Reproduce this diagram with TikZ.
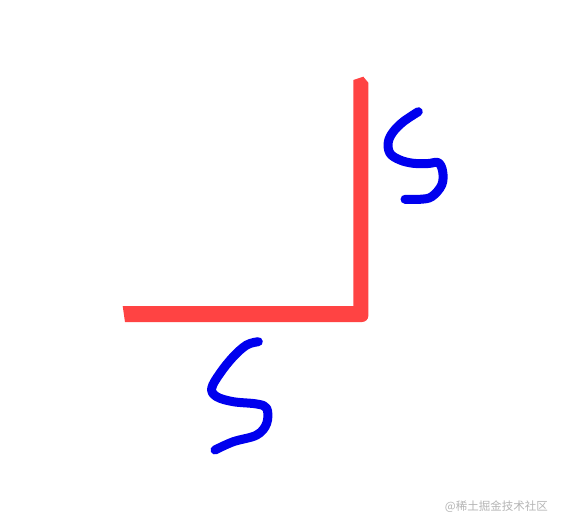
\documentclass[tikz,border=0pt]{standalone}
\usepackage{fontspec}
\newfontfamily\cjk{Noto Sans CJK SC}
\definecolor{redbar}{HTML}{FF4343}
\definecolor{bluepen}{HTML}{0000EE}
\definecolor{wmgray}{HTML}{B4B4B4}
\tikzset{
  pen/.style={draw=bluepen, line width=9pt, line cap=round, line join=round},
  watermark/.style={text=wmgray, font=\cjk\fontsize{11.5}{12}\selectfont, inner sep=0pt, anchor=east}
}
\begin{document}
\begin{tikzpicture}[x=1pt,y=-1pt]
\useasboundingbox (0,0) rectangle (562,530);
% red L
\fill[redbar] (353.3,80) -- (363.3,76.7) -- (368.3,82.7) -- (368.3,316)
  to[out=-90,in=0] (362,322) -- (125,322) -- (122.7,306) -- (353.3,306) -- cycle;
% right S
\draw[pen] plot[smooth, tension=0.6] coordinates {
  (418.3,111.7) (403.3,121.7) (393.3,131.7) (388.3,142) (390,153.3) (400,160)
  (413.3,163.3) (428.3,163.5) (438.3,162.7) (442.7,171.7) (441.7,185)
  (431.7,196.7) (420,199.3) (405,199.3)};
% bottom S
\draw[pen] plot[smooth, tension=0.6] coordinates {
  (258.3,341.7) (246.7,345) (233.3,356.7) (220,373.3) (211.7,388.3) (216.7,396.7)
  (233.3,401.7) (256.7,404) (266.7,408.3) (266.7,423.3) (256.7,435)
  (233.3,441.7) (215,450)};
\node[watermark] (wm) at (548,507) {@稀土掘金技术社区};
\end{tikzpicture}
\end{document}
